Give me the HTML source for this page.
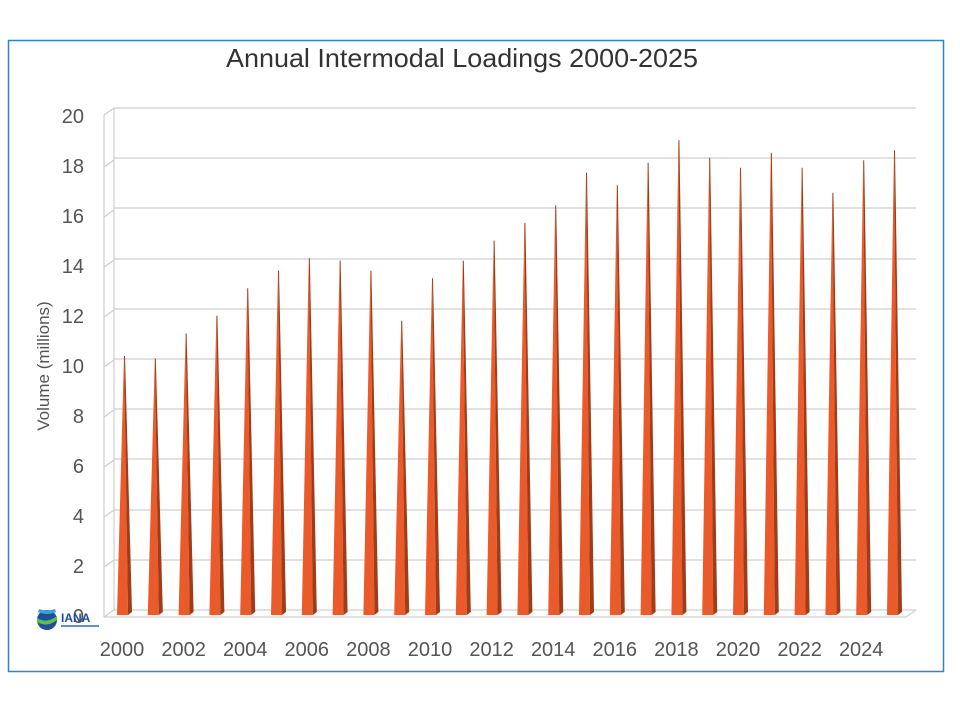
<!DOCTYPE html>
<html><head><style>
body{margin:0;background:#fff;}
svg{display:block;font-family:"Liberation Sans",sans-serif;}
</style></head><body>
<svg width="960" height="720" viewBox="0 0 960 720">
<rect x="8.5" y="40.5" width="935" height="631" fill="#fff" stroke="#2E86C1" stroke-width="1.5"/>
<text x="462" y="67" text-anchor="middle" font-size="26" fill="#333" textLength="472" lengthAdjust="spacingAndGlyphs">Annual Intermodal Loadings 2000-2025</text>
<g stroke="#cfcfcf" stroke-width="1.2" fill="none">
<line x1="114" y1="108" x2="916" y2="108"/>
<line x1="114" y1="158" x2="916" y2="158"/>
<line x1="114" y1="208" x2="916" y2="208"/>
<line x1="114" y1="259" x2="916" y2="259"/>
<line x1="114" y1="309" x2="916" y2="309"/>
<line x1="114" y1="359" x2="916" y2="359"/>
<line x1="114" y1="409" x2="916" y2="409"/>
<line x1="114" y1="459" x2="916" y2="459"/>
<line x1="114" y1="510" x2="916" y2="510"/>
<line x1="114" y1="560" x2="916" y2="560"/>
<line x1="114" y1="610" x2="916" y2="610"/>
<line x1="114" y1="108" x2="114" y2="610"/>
<line x1="104" y1="115" x2="104" y2="617"/>
<line x1="104" y1="617" x2="906" y2="617"/>
<line x1="104" y1="617" x2="114" y2="610"/>
<line x1="104" y1="115" x2="114" y2="108"/>
<line x1="104" y1="167" x2="114" y2="160"/>
<line x1="104" y1="217" x2="114" y2="210"/>
<line x1="104" y1="267" x2="114" y2="260"/>
<line x1="104" y1="317" x2="114" y2="310"/>
<line x1="104" y1="367" x2="114" y2="360"/>
<line x1="104" y1="417" x2="114" y2="410"/>
<line x1="104" y1="467" x2="114" y2="460"/>
<line x1="104" y1="517" x2="114" y2="510"/>
<line x1="104" y1="567" x2="114" y2="560"/>
<line x1="906" y1="617" x2="916" y2="610"/>
</g>
<g font-size="20" fill="#555" text-anchor="end">
<text x="84" y="123">20</text><text x="84" y="173">18</text><text x="84" y="223">16</text>
<text x="84" y="273">14</text><text x="84" y="323">12</text><text x="84" y="373">10</text>
<text x="84" y="423">8</text><text x="84" y="473">6</text><text x="84" y="523">4</text>
<text x="84" y="573">2</text><text x="84" y="623">0</text>
</g>
<text transform="translate(49,366) rotate(-90)" text-anchor="middle" font-size="17" fill="#555">Volume (millions)</text>
<g>
<g transform="translate(124,0)"><polygon points="-7,615 4,615 0,356" fill="#EB5A2A"/><polygon points="4,615 8,612 1,356 0,356" fill="#A03C17"/></g>
<g transform="translate(154.8,0)"><polygon points="-7,615 4,615 0,358.5" fill="#EB5A2A"/><polygon points="4,615 8,612 1,358.5 0,358.5" fill="#A03C17"/></g>
<g transform="translate(185.6,0)"><polygon points="-7,615 4,615 0,333.4" fill="#EB5A2A"/><polygon points="4,615 8,612 1,333.4 0,333.4" fill="#A03C17"/></g>
<g transform="translate(216.4,0)"><polygon points="-7,615 4,615 0,315.8" fill="#EB5A2A"/><polygon points="4,615 8,612 1,315.8 0,315.8" fill="#A03C17"/></g>
<g transform="translate(247.2,0)"><polygon points="-7,615 4,615 0,288.2" fill="#EB5A2A"/><polygon points="4,615 8,612 1,288.2 0,288.2" fill="#A03C17"/></g>
<g transform="translate(278,0)"><polygon points="-7,615 4,615 0,270.6" fill="#EB5A2A"/><polygon points="4,615 8,612 1,270.6 0,270.6" fill="#A03C17"/></g>
<g transform="translate(308.8,0)"><polygon points="-7,615 4,615 0,258.1" fill="#EB5A2A"/><polygon points="4,615 8,612 1,258.1 0,258.1" fill="#A03C17"/></g>
<g transform="translate(339.6,0)"><polygon points="-7,615 4,615 0,260.6" fill="#EB5A2A"/><polygon points="4,615 8,612 1,260.6 0,260.6" fill="#A03C17"/></g>
<g transform="translate(370.4,0)"><polygon points="-7,615 4,615 0,270.6" fill="#EB5A2A"/><polygon points="4,615 8,612 1,270.6 0,270.6" fill="#A03C17"/></g>
<g transform="translate(401.2,0)"><polygon points="-7,615 4,615 0,320.8" fill="#EB5A2A"/><polygon points="4,615 8,612 1,320.8 0,320.8" fill="#A03C17"/></g>
<g transform="translate(432,0)"><polygon points="-7,615 4,615 0,278.2" fill="#EB5A2A"/><polygon points="4,615 8,612 1,278.2 0,278.2" fill="#A03C17"/></g>
<g transform="translate(462.8,0)"><polygon points="-7,615 4,615 0,260.6" fill="#EB5A2A"/><polygon points="4,615 8,612 1,260.6 0,260.6" fill="#A03C17"/></g>
<g transform="translate(493.6,0)"><polygon points="-7,615 4,615 0,240.5" fill="#EB5A2A"/><polygon points="4,615 8,612 1,240.5 0,240.5" fill="#A03C17"/></g>
<g transform="translate(524.4,0)"><polygon points="-7,615 4,615 0,222.9" fill="#EB5A2A"/><polygon points="4,615 8,612 1,222.9 0,222.9" fill="#A03C17"/></g>
<g transform="translate(555.2,0)"><polygon points="-7,615 4,615 0,205.4" fill="#EB5A2A"/><polygon points="4,615 8,612 1,205.4 0,205.4" fill="#A03C17"/></g>
<g transform="translate(586,0)"><polygon points="-7,615 4,615 0,172.8" fill="#EB5A2A"/><polygon points="4,615 8,612 1,172.8 0,172.8" fill="#A03C17"/></g>
<g transform="translate(616.8,0)"><polygon points="-7,615 4,615 0,185.3" fill="#EB5A2A"/><polygon points="4,615 8,612 1,185.3 0,185.3" fill="#A03C17"/></g>
<g transform="translate(647.6,0)"><polygon points="-7,615 4,615 0,162.7" fill="#EB5A2A"/><polygon points="4,615 8,612 1,162.7 0,162.7" fill="#A03C17"/></g>
<g transform="translate(678.4,0)"><polygon points="-7,615 4,615 0,140.1" fill="#EB5A2A"/><polygon points="4,615 8,612 1,140.1 0,140.1" fill="#A03C17"/></g>
<g transform="translate(709.2,0)"><polygon points="-7,615 4,615 0,157.7" fill="#EB5A2A"/><polygon points="4,615 8,612 1,157.7 0,157.7" fill="#A03C17"/></g>
<g transform="translate(740,0)"><polygon points="-7,615 4,615 0,167.7" fill="#EB5A2A"/><polygon points="4,615 8,612 1,167.7 0,167.7" fill="#A03C17"/></g>
<g transform="translate(770.8,0)"><polygon points="-7,615 4,615 0,152.7" fill="#EB5A2A"/><polygon points="4,615 8,612 1,152.7 0,152.7" fill="#A03C17"/></g>
<g transform="translate(801.6,0)"><polygon points="-7,615 4,615 0,167.7" fill="#EB5A2A"/><polygon points="4,615 8,612 1,167.7 0,167.7" fill="#A03C17"/></g>
<g transform="translate(832.4,0)"><polygon points="-7,615 4,615 0,192.8" fill="#EB5A2A"/><polygon points="4,615 8,612 1,192.8 0,192.8" fill="#A03C17"/></g>
<g transform="translate(863.2,0)"><polygon points="-7,615 4,615 0,160.2" fill="#EB5A2A"/><polygon points="4,615 8,612 1,160.2 0,160.2" fill="#A03C17"/></g>
<g transform="translate(894,0)"><polygon points="-7,615 4,615 0,150.2" fill="#EB5A2A"/><polygon points="4,615 8,612 1,150.2 0,150.2" fill="#A03C17"/></g>
</g>
<g font-size="20" fill="#555" text-anchor="middle">
<text x="122" y="656">2000</text><text x="183.6" y="656">2002</text><text x="245.2" y="656">2004</text>
<text x="306.8" y="656">2006</text><text x="368.4" y="656">2008</text><text x="430" y="656">2010</text>
<text x="491.6" y="656">2012</text><text x="553.2" y="656">2014</text><text x="614.8" y="656">2016</text>
<text x="676.4" y="656">2018</text><text x="738" y="656">2020</text><text x="799.6" y="656">2022</text>
<text x="861.2" y="656">2024</text>
</g>
<g>
<circle cx="47" cy="620" r="10" fill="#1f4f9a"/>
<path d="M37 618 Q47 624 57 616 L57 620 Q47 628 37 622Z" fill="#5cbf4a"/>
<path d="M38 612 Q47 616 56 612 L55 609 Q47 612 39 609Z" fill="#3aa0d8"/>
<text x="61" y="622" font-size="12" font-weight="bold" fill="#1f4f9a">IANA</text>
<rect x="61" y="625" width="38" height="2" fill="#5b8fd0"/>
</g>
</svg>
</body></html>
